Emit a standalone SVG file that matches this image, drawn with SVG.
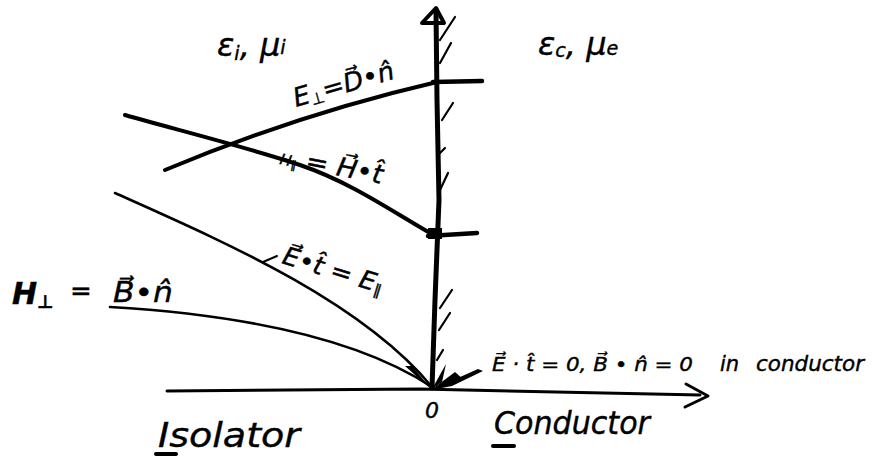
<svg xmlns="http://www.w3.org/2000/svg" width="874" height="459" viewBox="0 0 874 459">
<style>
  .ink{fill:none;stroke:#000;stroke-linecap:round;stroke-linejoin:round}
  .hatch{fill:none;stroke:#000;stroke-width:2.2;stroke-linecap:round}
  .t{font-family:"DejaVu Sans","Liberation Sans",sans-serif;font-style:oblique;fill:#000;stroke:#000;stroke-width:0.4}
  .sub{font-size:0.6em}
</style>
<rect width="874" height="459" fill="#fff"/>

<g id="axes">
  <path class="ink" stroke-width="5" d="M432,388 L435,300 L439,200 L437,100 L436,10"/>
  <path class="ink" stroke-width="4" d="M422,23 L436,8 L444,23 Z" fill="#000"/>
  <path class="ink" stroke-width="3" d="M167,391 L420,389 L700,395"/>
  <path class="ink" stroke-width="3" d="M686,384 L708,396 L685,407"/>
  <line class="ink" stroke-width="4.5" x1="433" y1="82" x2="482" y2="81"/>
  <line class="ink" stroke-width="4.5" x1="428" y1="236" x2="477" y2="233"/>
  <rect x="428" y="228" width="14" height="11" fill="#000"/>
</g>

<g id="hatching">
  <line class="hatch" x1="440" y1="40" x2="455" y2="17"/>
  <line class="hatch" x1="440" y1="63" x2="451" y2="43"/>
  <line class="hatch" x1="442" y1="120" x2="453" y2="103"/>
  <line class="hatch" x1="440" y1="153" x2="445" y2="148"/>
  <line class="hatch" x1="440" y1="190" x2="448" y2="173"/>
  <line class="hatch" x1="440" y1="308" x2="452" y2="290"/>
  <line class="hatch" x1="439" y1="330" x2="450" y2="313"/>
  <line class="hatch" x1="437" y1="360" x2="443" y2="350"/>
</g>

<g id="connectors">
  <path id="e-perp" class="ink" stroke-width="4" d="M165,170 Q299,114 437,82"/>
  <path id="h-par" class="ink" stroke-width="4" d="M125,115 C170,128 250,148 300,165 S390,210 430,233"/>
  <path id="e-par" class="ink" stroke-width="2.6" d="M115,193 C220,240 360,300 432,387"/>
  <path id="b-n" class="ink" stroke-width="2.6" d="M110,307 Q330,320 432,387"/>
  <line class="ink" stroke-width="2" x1="263" y1="262" x2="277" y2="256"/>
  <path d="M431,390 L478,369 L483,371 L452,386 Z" fill="#000"/>
  <path d="M431,390 L455,372 L463,379 Z" fill="#000"/>
  <path d="M432,389 L446,364 L442,382 Z" fill="#000"/>
  <path d="M432,390 L405,366 L412,366 Z" fill="#000"/>
</g>

<g id="label-eps-i">
  <text class="t" x="217" y="56" font-size="32">ε<tspan class="sub" dy="4">i</tspan><tspan dy="-4">, μ</tspan><tspan class="sub" dy="-2">i</tspan></text>
</g>
<g id="label-eps-c">
  <text class="t" x="538" y="55" font-size="32">ε<tspan class="sub" dy="2">c</tspan><tspan dy="-2">, μ</tspan><tspan class="sub">e</tspan></text>
</g>
<g id="label-e-perp">
  <text class="t" transform="translate(296,107) rotate(-16)" font-size="26" textLength="104" lengthAdjust="spacingAndGlyphs">E<tspan class="sub" dy="3">⊥</tspan><tspan dy="-3">=D⃗•n̂</tspan></text>
</g>
<g id="label-h-par">
  <text class="t" transform="translate(279,164) rotate(11)" font-size="26" textLength="104" lengthAdjust="spacingAndGlyphs"><tspan font-size="15">H</tspan><tspan font-size="11" dy="2">∥</tspan><tspan dy="-2"> = H⃗•t̂</tspan></text>
</g>
<g id="label-e-par">
  <text class="t" transform="translate(281,263) rotate(17)" font-size="25" textLength="104" lengthAdjust="spacingAndGlyphs">E⃗•t̂ = E<tspan class="sub" dy="3">∥</tspan></text>
</g>
<g id="label-h-perp">
  <text class="t" x="12" y="304" font-size="30" font-weight="bold">H<tspan class="sub" dy="4">⊥</tspan></text>
  <text class="t" x="70" y="300" font-size="26">=</text>
  <text class="t" x="113" y="302" font-size="28" textLength="60" lengthAdjust="spacingAndGlyphs">B⃗•n̂</text>
</g>
<g id="label-conductor-cond">
  <text class="t" x="492" y="371" font-size="20" textLength="201" lengthAdjust="spacingAndGlyphs">E⃗ · t̂ = 0, B⃗ • n̂ = 0</text>
  <text class="t" x="720" y="371" font-size="21">in</text>
  <text class="t" x="756" y="371" font-size="21" textLength="108" lengthAdjust="spacingAndGlyphs">conductor</text>
</g>
<g id="label-origin">
  <text class="t" x="432" y="418" font-size="22" text-anchor="middle">0</text>
</g>
<g id="label-isolator">
  <text class="t" x="158" y="447" font-size="34" textLength="142" lengthAdjust="spacingAndGlyphs">Isolator</text>
  <line class="ink" stroke-width="4" x1="156" y1="454" x2="176" y2="454"/>
</g>
<g id="label-conductor">
  <text class="t" x="494" y="434" font-size="32" textLength="156" lengthAdjust="spacingAndGlyphs">Conductor</text>
  <line class="ink" stroke-width="4" x1="493" y1="446" x2="514" y2="446"/>
</g>
</svg>
